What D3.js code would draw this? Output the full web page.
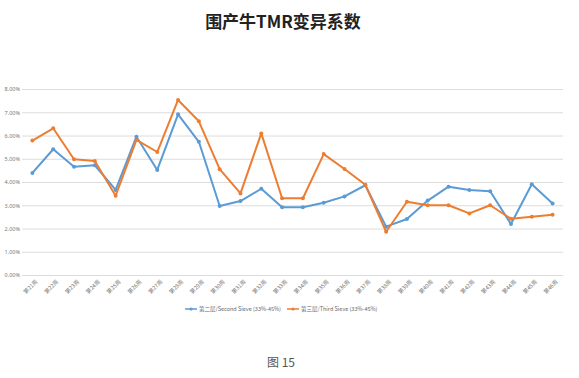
<!DOCTYPE html>
<html>
<head>
<meta charset="utf-8">
<script src="https://cdn.jsdelivr.net/npm/d3@7"></script>
<style>
  body { margin: 0; background: #fff; }
  svg { display: block; }
</style>
</head>
<body>
<div id="chart"></div>
<script>
// Data
const weeks = ['第21周', '第22周', '第23周', '第24周', '第25周', '第26周', '第27周', '第28周', '第29周',
  '第30周', '第31周', '第32周', '第33周', '第34周', '第35周', '第36周', '第37周', '第38周',
  '第39周', '第40周', '第41周', '第42周', '第43周', '第44周', '第45周', '第46周'];
const secondSieve = [4.39, 5.41, 4.66, 4.72, 3.66, 5.95, 4.52, 6.91, 5.73, 2.97, 3.18, 3.71, 2.91,
  2.91, 3.11, 3.38, 3.86, 2.08, 2.41, 3.20, 3.80, 3.66, 3.60, 2.19, 3.90, 3.08];
const thirdSieve = [5.78, 6.31, 4.98, 4.90, 3.41, 5.81, 5.29, 7.53, 6.61, 4.55, 3.51, 6.09, 3.30,
  3.30, 5.20, 4.56, 3.88, 1.86, 3.15, 3.00, 3.00, 2.65, 3.00, 2.42, 2.51, 2.59];
const yTicks = [0, 1, 2, 3, 4, 5, 6, 7, 8];
const seriesNames = ['第二层/Second Sieve (33%-45%)', '第三层/Third Sieve (33%-45%)'];
const seriesColors = ['#5b9bd5', '#ed7d31'];

const width = 579, height = 378;
const margin = { top: 89, right: 16, bottom: 103, left: 22 };

const svg = d3.select('#chart')
  .append('svg')
  .attr('width', width)
  .attr('height', height);

const x = d3.scaleBand()
  .domain(weeks)
  .range([margin.left, width - margin.right]);

const y = d3.scaleLinear()
  .domain([0, 8])
  .range([height - margin.bottom, margin.top]);

// title
svg.append('text')
  .attr('x', 283)
  .attr('y', 28)
  .attr('text-anchor', 'middle')
  .attr('font-family', '"Noto Sans CJK SC", "DejaVu Serif", serif')
  .attr('font-weight', 'bold')
  .attr('font-size', 17)
  .attr('fill', '#222')
  .text('围产牛TMR变异系数');

// y axis with gridlines
const yAxis = d3.axisLeft(y)
  .tickValues(yTicks)
  .tickSize(-(width - margin.left - margin.right))
  .tickPadding(2)
  .tickFormat(d => d3.format('.2f')(d) + '%');

const gy = svg.append('g')
  .attr('transform', `translate(${margin.left},0)`)
  .call(yAxis);
gy.select('.domain').remove();
gy.selectAll('.tick line').attr('stroke', '#dcdcdc').attr('stroke-width', 1);
gy.selectAll('.tick text')
  .attr('fill', '#777')
  .attr('font-size', 5.5)
  .attr('font-family', '"Noto Sans", sans-serif');

// x axis labels, rotated
const xAxis = d3.axisBottom(x).tickSize(0).tickPadding(4);
const gx = svg.append('g')
  .attr('transform', `translate(0,${height - margin.bottom})`)
  .call(xAxis);
gx.select('.domain').remove();
gx.selectAll('.tick text')
  .attr('fill', '#777')
  .attr('font-size', 5.5)
  .attr('font-family', '"Noto Sans CJK SC", sans-serif')
  .attr('text-anchor', 'end')
  .attr('dx', '-0.2em')
  .attr('dy', '0.9em')
  .attr('transform', 'rotate(-45)');

// lines
const line = d3.line()
  .x((d, i) => x(weeks[i]) + x.bandwidth() / 2)
  .y(d => y(d));

[secondSieve, thirdSieve].forEach((values, s) => {
  const g = svg.append('g');
  g.append('path')
    .datum(values)
    .attr('fill', 'none')
    .attr('stroke', seriesColors[s])
    .attr('stroke-width', 2)
    .attr('stroke-linejoin', 'round')
    .attr('d', line);
  g.selectAll('circle')
    .data(values)
    .join('circle')
      .attr('cx', (d, i) => x(weeks[i]) + x.bandwidth() / 2)
      .attr('cy', d => y(d))
      .attr('r', 2)
      .attr('fill', seriesColors[s]);
});

// legend
const legendX = [185, 287];
const legendY = 309;
seriesNames.forEach((name, s) => {
  const lg = svg.append('g').attr('transform', `translate(${legendX[s]},${legendY})`);
  lg.append('line')
    .attr('x1', 0).attr('x2', 12)
    .attr('stroke', seriesColors[s])
    .attr('stroke-width', 1.5);
  lg.append('circle')
    .attr('cx', 6).attr('r', 1.6)
    .attr('fill', seriesColors[s]);
  lg.append('text')
    .attr('x', 14)
    .attr('dy', '0.35em')
    .attr('font-size', 5.5)
    .attr('fill', '#666')
    .attr('font-family', '"Noto Sans CJK SC", sans-serif')
    .text(name);
});

// figure caption
svg.append('text')
  .attr('x', 281)
  .attr('y', 367)
  .attr('text-anchor', 'middle')
  .attr('font-size', 12)
  .attr('fill', '#555')
  .attr('font-family', '"Noto Sans CJK SC", sans-serif')
  .text('图 15');
</script>
</body>
</html>
